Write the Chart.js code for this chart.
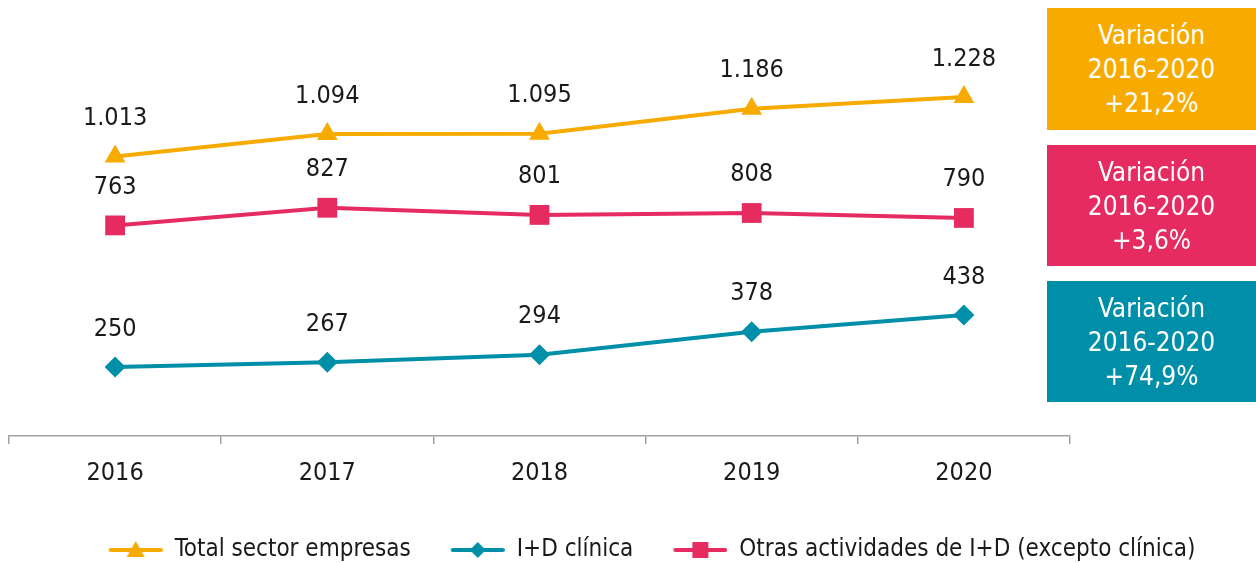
<!DOCTYPE html>
<html>
<head>
<meta charset="utf-8">
<script src="https://cdn.jsdelivr.net/npm/chart.js@4.4.0/dist/chart.umd.min.js"></script>
<style>
  body { margin: 0; overflow: hidden; background: #fff; }
  #wrap { position: relative; width: 1304px; height: 563px; margin-left: -5px; }
  .box {
    position: absolute; left: 1052px; width: 209px;
    color: #fff; text-align: center;
    font-family: 'DejaVu Sans Condensed', 'DejaVu Sans', sans-serif;
    font-size: 26px; line-height: 34px;
    display: flex; flex-direction: column; justify-content: center;
  }
</style>
</head>
<body>
<div id="wrap">
  <canvas id="lineChart"></canvas>
  <div class="box" style="top:8px;height:122px;background:#F7AB00">Variación<br>2016-2020<br>+21,2%</div>
  <div class="box" style="top:145px;height:121px;background:#E52B5F">Variación<br>2016-2020<br>+3,6%</div>
  <div class="box" style="top:281px;height:121px;background:#008FA8">Variación<br>2016-2020<br>+74,9%</div>
</div>
<script>
const years = ["2016", "2017", "2018", "2019", "2020"];
const totalEmpresas = [1013, 1094, 1095, 1186, 1228];
const idClinica = [250, 267, 294, 378, 438];
const otrasID = [763, 827, 801, 808, 790];

const FONT = "'DejaVu Sans Condensed', 'DejaVu Sans', sans-serif";
const ORANGE = "#F7AB00", PINK = "#E52B5F", TEAL = "#008FA8";

// thousands with a dot
const fmt = v => String(v).replace(/\B(?=(\d{3})+(?!\d))/g, ".");

// legend icon: line with marker in the middle (extra blank on the left for spacing)
const GAP = 30;
function legendIcon(color, shape) {
  const c = document.createElement("canvas");
  c.width = 54 + GAP; c.height = 22;
  const g = c.getContext("2d");
  g.translate(GAP, 0);
  g.strokeStyle = color; g.lineWidth = 4; g.lineCap = "round";
  g.beginPath(); g.moveTo(2, 11); g.lineTo(52, 11); g.stroke();
  g.fillStyle = color;
  g.beginPath();
  if (shape === "triangle") {
    g.moveTo(27, 2); g.lineTo(36, 18); g.lineTo(18, 18);
  } else if (shape === "diamond") {
    g.moveTo(27, 3); g.lineTo(35, 11); g.lineTo(27, 19); g.lineTo(19, 11);
  } else {
    g.rect(19, 3, 16, 16);
  }
  g.closePath(); g.fill();
  return c;
}
const icons = [legendIcon(ORANGE, "triangle"), legendIcon(TEAL, "diamond"), legendIcon(PINK, "square")];

// value labels above the points
const valueLabels = {
  id: "valueLabels",
  afterDatasetsDraw(chart) {
    const ctx = chart.ctx;
    ctx.save();
    ctx.font = "25px " + FONT;
    ctx.fillStyle = "#1a1a1a";
    ctx.textAlign = "center";
    ctx.textBaseline = "middle";
    chart.data.datasets.forEach((ds, i) => {
      chart.getDatasetMeta(i).data.forEach((pt, j) => {
        ctx.fillText(fmt(ds.data[j]), pt.x, pt.y - 38);
      });
    });
    ctx.restore();
  }
};

const ctx = document.getElementById("lineChart").getContext("2d");
new Chart(ctx, {
  type: "line",
  data: {
    labels: years,
    datasets: [
      {
        label: "Total sector empresas",
        data: totalEmpresas,
        borderColor: ORANGE, backgroundColor: ORANGE,
        borderWidth: 4, pointStyle: "triangle", pointRadius: 12, pointBorderWidth: 0
      },
      {
        label: "I+D clínica",
        data: idClinica,
        borderColor: TEAL, backgroundColor: TEAL,
        borderWidth: 4, pointStyle: "rectRot", pointRadius: 10.5, pointBorderWidth: 0
      },
      {
        label: "Otras actividades de I+D (excepto clínica)",
        data: otrasID,
        borderColor: PINK, backgroundColor: PINK,
        borderWidth: 4, pointStyle: "rect", pointRadius: 14, pointBorderWidth: 0
      }
    ]
  },
  options: {
    responsive: true,
    maintainAspectRatio: false,
    animation: false,
    layout: { padding: { top: 22, left: -12, right: 8, bottom: -9 } },
    plugins: {
      tooltip: { enabled: false },
      legend: {
        position: "bottom",
        labels: {
          usePointStyle: true,
          pointStyleWidth: 54 + GAP,
          padding: 10,
          color: "#1a1a1a",
          font: { family: FONT, size: 24 },
          generateLabels(chart) {
            const items = Chart.defaults.plugins.legend.labels.generateLabels(chart);
            items.forEach((it, i) => { it.pointStyle = icons[i]; });
            return items;
          }
        }
      }
    },
    scales: {
      x: {
        offset: true,
        grid: { offset: true, drawOnChartArea: false, tickLength: 8, color: "#a0a0a0", lineWidth: 1.5 },
        border: { color: "#a0a0a0", width: 1.5 },
        ticks: { color: "#1a1a1a", padding: 14, font: { family: FONT, size: 25 } },
        afterFit(s) { s.height = 92; s.paddingLeft = 0; s.paddingRight = 0; }
      },
      y: { display: false, min: 0, max: 1500 },
      y2: {
        position: "right",
        grid: { display: false },
        border: { display: false },
        ticks: { display: false },
        afterFit(s) { s.width = 221; }
      }
    }
  },
  plugins: [valueLabels]
});
</script>
</body>
</html>
